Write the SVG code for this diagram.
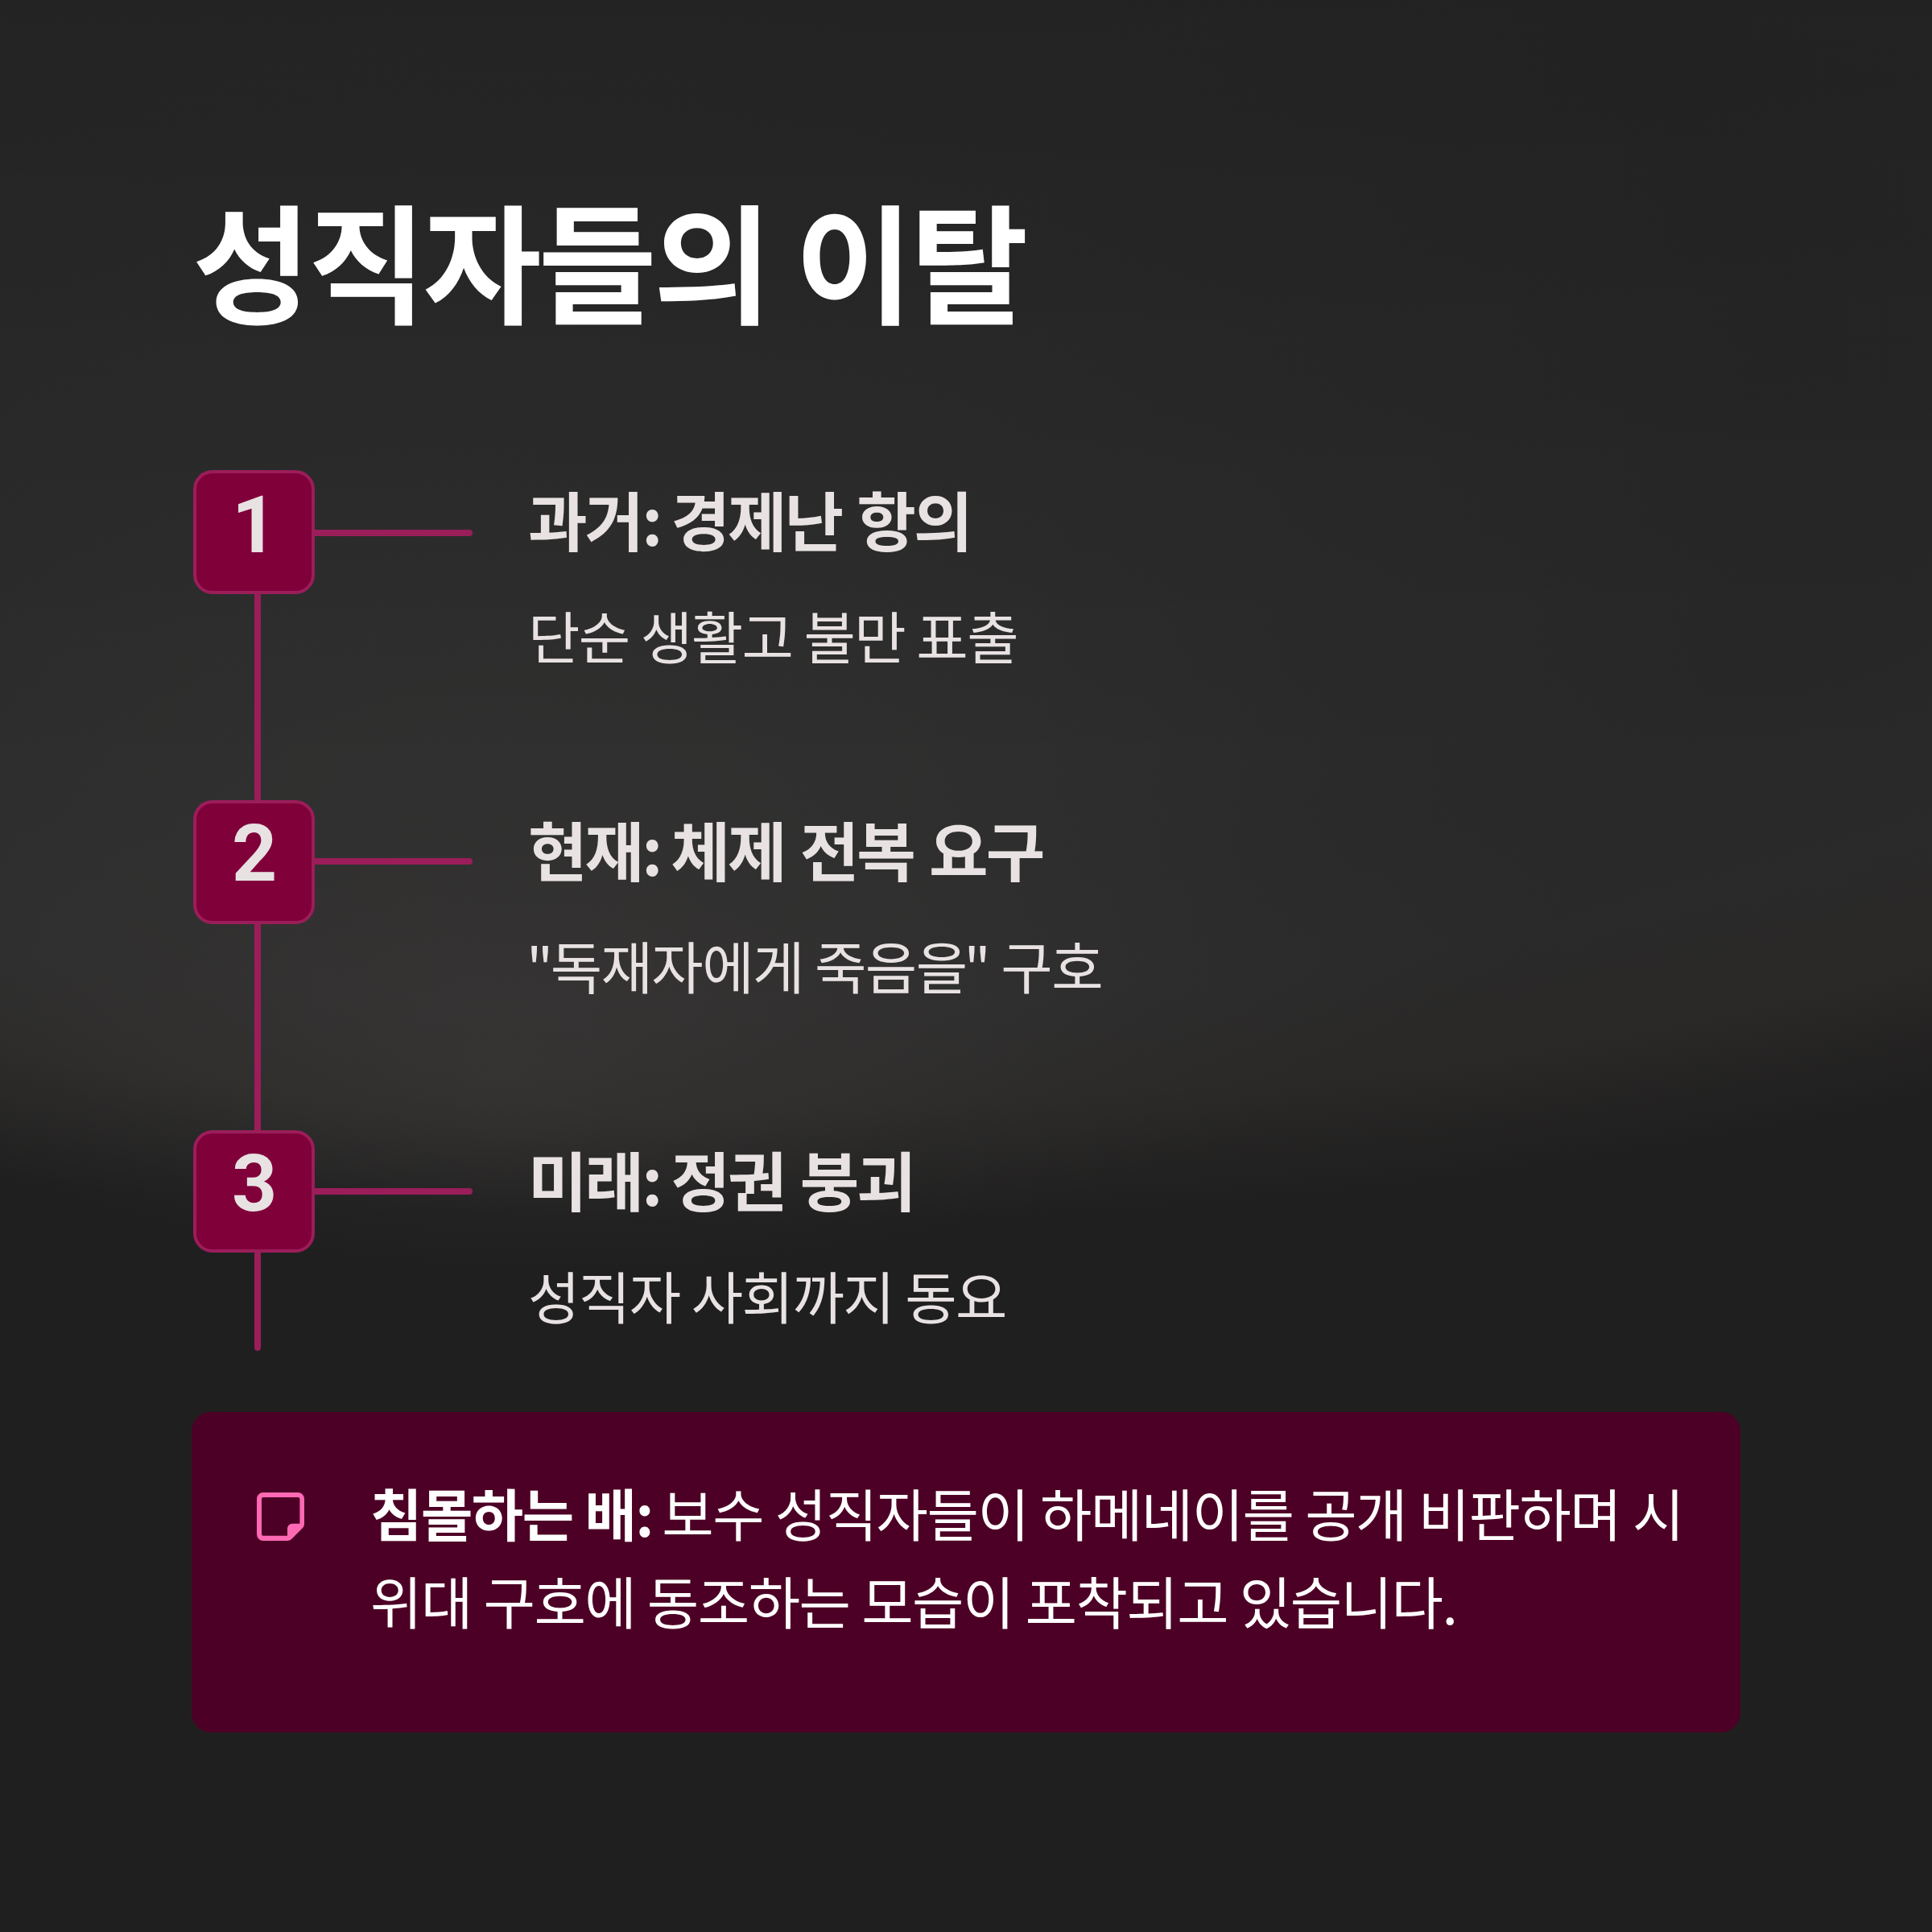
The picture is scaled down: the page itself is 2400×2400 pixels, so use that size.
<svg xmlns="http://www.w3.org/2000/svg" width="2400" height="2400" viewBox="0 0 2400 2400">
<style>
text{font-family:"Noto Sans CJK KR","Noto Sans",sans-serif}
.title{font-size:160px;font-weight:700;fill:#fff;letter-spacing:-4px}
.num{font-family:"Roboto","Inter",sans-serif;font-size:98px;font-weight:700;fill:#e8e2e3;text-anchor:middle}
.head{font-size:80px;font-weight:700;fill:#e8e2e3;letter-spacing:-3px;word-spacing:4px}
.sub{font-size:70px;font-weight:400;fill:#e8e2e3;letter-spacing:-1.55px}
.note{font-size:70px;font-weight:400;fill:#fff;letter-spacing:-1.5px;word-spacing:.5px}
.note .b{font-weight:700}
.box{fill:#80003a;stroke:#9b1d5a;stroke-width:4}
.line{stroke:#9b1d5a;stroke-width:8;stroke-linecap:round;fill:none}
</style>
<defs>
<radialGradient id="a" gradientUnits="userSpaceOnUse" cx="0" cy="0" r="1" gradientTransform="translate(900 400) scale(2900 1120)">
<stop offset="0" stop-color="#262626"/><stop offset="0.62" stop-color="#282828"/><stop offset="0.76" stop-color="#2b2a2a"/><stop offset="0.87" stop-color="#2a2928"/><stop offset="1" stop-color="#201f1f"/>
</radialGradient>
<radialGradient id="b" gradientUnits="userSpaceOnUse" cx="0" cy="0" r="1" fx="-0.053" fy="0.765" gradientTransform="translate(700 560) scale(1500 1020)">
<stop offset="0" stop-color="#454140" stop-opacity=".42"/><stop offset="0.3" stop-color="#454342" stop-opacity=".26"/><stop offset="0.65" stop-color="#484848" stop-opacity=".09"/><stop offset="1" stop-color="#484848" stop-opacity="0"/>
</radialGradient>
<linearGradient id="t" gradientUnits="userSpaceOnUse" x1="0" y1="0" x2="0" y2="1000"><stop offset="0" stop-color="#000" stop-opacity=".14"/><stop offset="1" stop-color="#000" stop-opacity="0"/></linearGradient>
</defs>
<rect width="2400" height="2400" fill="#201f1f"/>
<rect width="2400" height="2400" fill="url(#a)"/>
<rect width="2400" height="2400" fill="url(#b)"/>
<rect width="2400" height="1000" fill="url(#t)"/>
<text class="title" x="239" y="390">성직자들의 이탈</text>
<g id="connectors">
<path class="line" d="M320 738V996M320 1148V1404M320 1556V1674"/>
<path class="line" d="M391 662H583M391 1070H583M391 1480H583"/>
</g>
<g id="node-1"><rect class="box" x="242" y="586" width="147" height="150" rx="22"/><text class="num" x="316" y="686">1</text>
<text class="head" x="656" y="678">과거:<tspan dx="-6"> </tspan>경제난 항의</text><text class="sub" x="656" y="819">단순 생활고 불만 표출</text></g>
<g id="node-2"><rect class="box" x="242" y="996" width="147" height="150" rx="22"/><text class="num" x="316" y="1094">2</text>
<text class="head" x="656" y="1088">현재:<tspan dx="-6"> </tspan>체제 전복 요구</text><text class="sub" x="654" y="1229"><tspan>"</tspan><tspan dx="-2">독재자에게 죽음을</tspan><tspan dx="-3">"</tspan> 구호</text></g>
<g id="node-3"><rect class="box" x="242" y="1406" width="147" height="148" rx="22"/><text class="num" x="316" y="1504">3</text>
<text class="head" x="656" y="1498">미래:<tspan dx="-6"> </tspan>정권 붕괴</text><text class="sub" x="656" y="1639">성직자 사회까지 동요</text></g>
<g id="callout">
<rect x="238" y="1754" width="1924" height="398" rx="24" fill="#4d0025"/>
<path fill-rule="evenodd" fill="#ff69b4" d="M327 1854H370a8 8 0 0 1 8 8V1893q0 3-2 5l-14 14q-2 2-5 2H327a8 8 0 0 1-8-8V1862a8 8 0 0 1 8-8zM327 1860a2 2 0 0 0-2 2V1905.7a2 2 0 0 0 2 2H357V1898.7a6 6 0 0 1 6-6H372.4V1862a2 2 0 0 0-2-2z"/>
<text class="note" x="460" y="1909"><tspan class="b">침몰하는 배:</tspan><tspan dx="-3"> </tspan>보수 성직자들이 하메네이를 공개 비판하며 시</text>
<text class="note" x="460" y="2018">위대 구호에 동조하는 모습이 포착되고 있습니다.</text>
</g>
</svg>
